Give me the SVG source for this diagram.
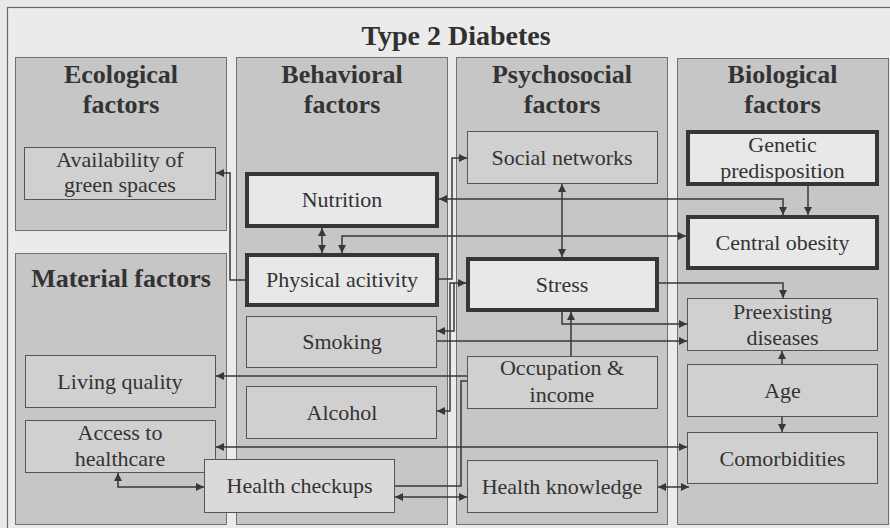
<svg xmlns="http://www.w3.org/2000/svg" width="890" height="528" viewBox="0 0 890 528">
<defs>
<style>
.bg{fill:#e9e9e9}
.frame{fill:#ebebeb;stroke:#6a6a6a;stroke-width:1.2}
.col{fill:#c6c6c6;stroke:#707070;stroke-width:1}
.box{fill:#d0d0d0;stroke:#555;stroke-width:1}
.lbox{fill:#dadada;stroke:#555;stroke-width:1}
.hbox{fill:#e8e8e8;stroke:#363636;stroke-width:4}
.title{font-family:"Liberation Serif",serif;font-weight:bold;font-size:28px;fill:#303030;text-anchor:middle}
.hd{font-family:"Liberation Serif",serif;font-weight:bold;font-size:26px;fill:#333;text-anchor:middle}
.t{font-family:"Liberation Serif",serif;font-size:22px;fill:#333;text-anchor:middle}
.c{fill:none;stroke:#383838;stroke-width:1.5}
</style>
<marker id="a" viewBox="0 0 10 10" refX="10" refY="5" markerWidth="9" markerHeight="8" orient="auto-start-reverse" markerUnits="userSpaceOnUse">
<path d="M0,0 L10,5 L0,10 z" fill="#383838"/>
</marker>
</defs>
<rect class="bg" x="0" y="0" width="890" height="528"/>
<rect class="frame" x="7.5" y="7.5" width="890" height="530"/>
<text class="title" x="456" y="45">Type 2 Diabetes</text>

<g id="columns">
<g id="col-ecological"><rect class="col" x="15.5" y="57.5" width="211" height="173"/><text class="hd" x="121" y="83">Ecological</text><text class="hd" x="121" y="113">factors</text></g>
<g id="col-material"><rect class="col" x="15.5" y="253.5" width="211" height="271"/><text class="hd" x="121" y="287">Material factors</text></g>
<g id="col-behavioral"><rect class="col" x="236.5" y="57.5" width="211" height="467"/><text class="hd" x="342" y="83">Behavioral</text><text class="hd" x="342" y="113">factors</text></g>
<g id="col-psychosocial"><rect class="col" x="456.5" y="57.5" width="211" height="467"/><text class="hd" x="562" y="83">Psychosocial</text><text class="hd" x="562" y="113">factors</text></g>
<g id="col-biological"><rect class="col" x="677.5" y="58.5" width="211" height="466"/><text class="hd" x="782.5" y="83">Biological</text><text class="hd" x="782.5" y="113">factors</text></g>
</g>

<g id="connectors">
<path class="c" d="M245,280 H230 V173 H216" marker-end="url(#a)"/>
<path class="c" d="M322,228 V253" marker-start="url(#a)" marker-end="url(#a)"/>
<path class="c" d="M342,253 V236 H686" marker-start="url(#a)" marker-end="url(#a)"/>
<path class="c" d="M439,199 H783 V215" marker-start="url(#a)" marker-end="url(#a)"/>
<path class="c" d="M808,186 V215" marker-end="url(#a)"/>
<path class="c" d="M439,279 H452 V158 H467" marker-end="url(#a)"/>
<path class="c" d="M437,411 H450 V283 H466" marker-start="url(#a)" marker-end="url(#a)"/>
<path class="c" d="M437,331 H454 V283" marker-start="url(#a)"/>
<path class="c" d="M562,184 V257" marker-start="url(#a)" marker-end="url(#a)"/>
<path class="c" d="M659,283 H783 V298" marker-end="url(#a)"/>
<path class="c" d="M562,312 V324 H687" marker-end="url(#a)"/>
<path class="c" d="M571,356 V312" marker-end="url(#a)"/>
<path class="c" d="M437,341 H687" marker-end="url(#a)"/>
<path class="c" d="M467,376 H216" marker-end="url(#a)"/>
<path class="c" d="M467,381 H461 V486 H395"/>
<path class="c" d="M216,447 H687" marker-start="url(#a)" marker-end="url(#a)"/>
<path class="c" d="M395,497 H467" marker-start="url(#a)" marker-end="url(#a)"/>
<path class="c" d="M118,473 V487 H204" marker-start="url(#a)" marker-end="url(#a)"/>
<path class="c" d="M658,487 H689" marker-start="url(#a)" marker-end="url(#a)"/>
<path class="c" d="M782,364 V351" marker-end="url(#a)"/>
<path class="c" d="M782,417 V432" marker-end="url(#a)"/>
</g>

<g id="green-spaces"><rect class="box" x="24.5" y="147.5" width="191" height="52"/><text class="t" x="120" y="167">Availability of</text><text class="t" x="120" y="192">green spaces</text></g>
<g id="living-quality"><rect class="box" x="25.5" y="355.5" width="190" height="52"/><text class="t" x="120" y="389">Living quality</text></g>
<g id="access-healthcare"><rect class="box" x="25.5" y="420.5" width="190" height="52"/><text class="t" x="120" y="440">Access to</text><text class="t" x="120" y="466">healthcare</text></g>
<g id="nutrition"><rect class="hbox" x="247" y="174" width="190" height="52"/><text class="t" x="342" y="207">Nutrition</text></g>
<g id="physical-activity"><rect class="hbox" x="247" y="255" width="190" height="50"/><text class="t" x="342" y="287">Physical acitivity</text></g>
<g id="smoking"><rect class="box" x="246.5" y="316.5" width="190" height="51"/><text class="t" x="342" y="349">Smoking</text></g>
<g id="alcohol"><rect class="box" x="246.5" y="386.5" width="190" height="52"/><text class="t" x="342" y="420">Alcohol</text></g>
<g id="health-checkups"><rect class="lbox" x="204.5" y="459.5" width="190" height="53"/><text class="t" x="299.5" y="493">Health checkups</text></g>
<g id="social-networks"><rect class="box" x="467.5" y="131.5" width="190" height="52"/><text class="t" x="562" y="165">Social networks</text></g>
<g id="stress"><rect class="hbox" x="468" y="259" width="189" height="51"/><text class="t" x="562" y="292">Stress</text></g>
<g id="occupation-income"><rect class="box" x="467.5" y="356.5" width="190" height="52"/><text class="t" x="562" y="375">Occupation &amp;</text><text class="t" x="562" y="402">income</text></g>
<g id="health-knowledge"><rect class="box" x="467.5" y="460.5" width="190" height="52"/><text class="t" x="562" y="494">Health knowledge</text></g>
<g id="genetic"><rect class="hbox" x="688" y="132" width="189" height="52"/><text class="t" x="782.5" y="152">Genetic</text><text class="t" x="782.5" y="178">predisposition</text></g>
<g id="central-obesity"><rect class="hbox" x="688" y="217" width="189" height="51"/><text class="t" x="782.5" y="250">Central obesity</text></g>
<g id="preexisting"><rect class="box" x="687.5" y="298.5" width="190" height="52"/><text class="t" x="782.5" y="319">Preexisting</text><text class="t" x="782.5" y="345">diseases</text></g>
<g id="age"><rect class="box" x="687.5" y="364.5" width="190" height="52"/><text class="t" x="782.5" y="398">Age</text></g>
<g id="comorbidities"><rect class="box" x="687.5" y="432.5" width="190" height="51"/><text class="t" x="782.5" y="466">Comorbidities</text></g>
</svg>
